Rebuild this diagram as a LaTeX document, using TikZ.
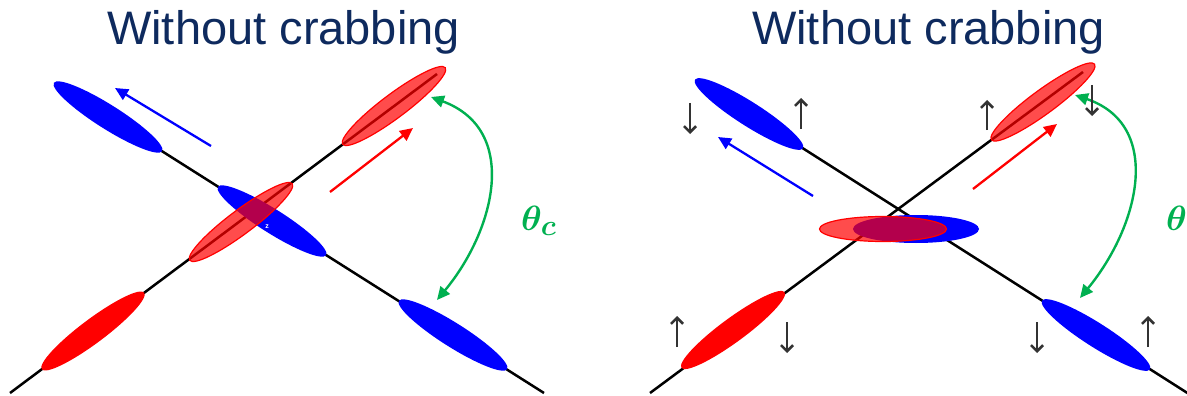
\documentclass[tikz,border=0pt]{standalone}
\usepackage{graphicx}
\usepackage{fontspec}
\setmainfont{Liberation Sans}
\usetikzlibrary{shapes.geometric,arrows.meta}
\definecolor{navy}{RGB}{14,42,94}
\definecolor{grn}{RGB}{0,176,80}
\definecolor{dgray}{RGB}{51,51,51}
\newcommand{\anglesym}{\scalebox{1.41}{\fontsize{24.88}{30}\selectfont\boldmath$\theta_c$}}
\tikzset{
 bunch/.style={ellipse, inner sep=0pt, minimum width=128pt, minimum height=24pt},
 bluebunch/.style={bunch, fill=blue},
 redbunch/.style={bunch, fill=red},
 redtrans/.style={bunch, fill=red, fill opacity=0.7, draw=red, line width=1.2pt},
 beam/.style={line width=2.5pt, black},
 motion/.style={line width=2.3pt, -{Triangle[length=13pt,width=12pt]}},
 angarrow/.style={grn, line width=2.4pt, {Triangle[length=13pt,width=12pt]}-{Triangle[length=13pt,width=12pt]}},
 kick/.style={dgray, line width=2.6pt, -{Straight Barb[length=6pt,width=12pt]}},
 title/.style={navy, font=\fontsize{47}{56}\selectfont, anchor=base},
 anglabel/.style={grn, anchor=base west, inner sep=0pt},
}
\begin{document}
\begin{tikzpicture}[x=1pt,y=-1pt]
\clip (0,0) rectangle (1187,396);
% ---------------- left panel ----------------
\node[title] (t1) at (283.5,45) {Without crabbing};
\coordinate (lbEnd) at (544,393);
\coordinate (lrStart) at (10,393);
\coordinate (lrEnd) at (437,74);
\coordinate (lbTLc) at (108,117);
\draw[beam] (lbTLc) -- (lbEnd);
\draw[beam] (lrStart) -- (lrEnd);
\node[bluebunch, rotate=-32.3] (lbTL) at (108,117) {};
\node[bluebunch, rotate=-32.3] (lbM) at (272,221) {};
\node[bluebunch, rotate=-32.3] (lbBR) at (453,335) {};
\node[white, font=\fontsize{7}{7}\selectfont\bfseries] (lz) at (267,227) {z};
\node[redbunch, rotate=36.8] (lrBL) at (93,331) {};
\node[redtrans, rotate=36.8] (lrM) at (241,222) {};
\node[redtrans, rotate=36.8] (lrTR) at (394,106) {};
\coordinate (lba0) at (211,146); \coordinate (lba1) at (115,88);
\coordinate (lra0) at (330,192); \coordinate (lra1) at (413,128);
\draw[motion, blue] (lba0) -- (lba1);
\draw[motion, red] (lra0) -- (lra1);
\coordinate (lg0) at (431,97); \coordinate (lg1) at (437,300);
\draw[angarrow] (lg0) .. controls (520,130) and (495,230) .. (lg1);
\node[anglabel] (lth) at (521,230) {\anglesym};
% ---------------- right panel ----------------
\node[title] (t2) at (928.5,45) {Without crabbing};
\coordinate (rbTLc) at (749,114);
\coordinate (rbEnd) at (1200,401);
\coordinate (rrStart) at (650,393);
\coordinate (rrEnd) at (1083,72);
\draw[beam] (rbTLc) -- (rbEnd);
\draw[beam] (rrStart) -- (rrEnd);
\node[bluebunch, rotate=-32.5] (rbTL) at (749,114) {};
\node[bluebunch, rotate=-32.5] (rbBR) at (1096,335) {};
\node[redbunch, rotate=36.3] (rrBL) at (733,330) {};
\node[redtrans, rotate=36.3] (rrTR) at (1043,102) {};
\node[bunch, fill=blue, minimum width=126pt, minimum height=28pt] (rbM) at (916,229) {};
\node[redtrans, minimum width=127pt, minimum height=25pt] (rrM) at (883,229) {};
\coordinate (rba0) at (813,196); \coordinate (rba1) at (718,137);
\coordinate (rra0) at (973,189); \coordinate (rra1) at (1057,124);
\draw[motion, blue] (rba0) -- (rba1);
\draw[motion, red] (rra0) -- (rra1);
\coordinate (rg0) at (1075,95); \coordinate (rg1) at (1080,298);
\draw[angarrow] (rg0) .. controls (1163,125) and (1140,225) .. (rg1);
\node[anglabel] (rth) at (1166,230) {\anglesym};
% kicks
\coordinate (k1a) at (690,103); \coordinate (k1b) at (690,134);
\coordinate (k2a) at (801,129); \coordinate (k2b) at (801,98);
\coordinate (k3a) at (987,130); \coordinate (k3b) at (987,100);
\coordinate (k4a) at (1092,85); \coordinate (k4b) at (1092,116);
\coordinate (k5a) at (677,347); \coordinate (k5b) at (677,316);
\coordinate (k6a) at (787,322); \coordinate (k6b) at (787,353);
\coordinate (k7a) at (1037,322); \coordinate (k7b) at (1037,353);
\coordinate (k8a) at (1148,347); \coordinate (k8b) at (1148,316);
\foreach \k in {1,...,8} {\draw[kick] (k\k a) -- (k\k b);}
\end{tikzpicture}
\end{document}
